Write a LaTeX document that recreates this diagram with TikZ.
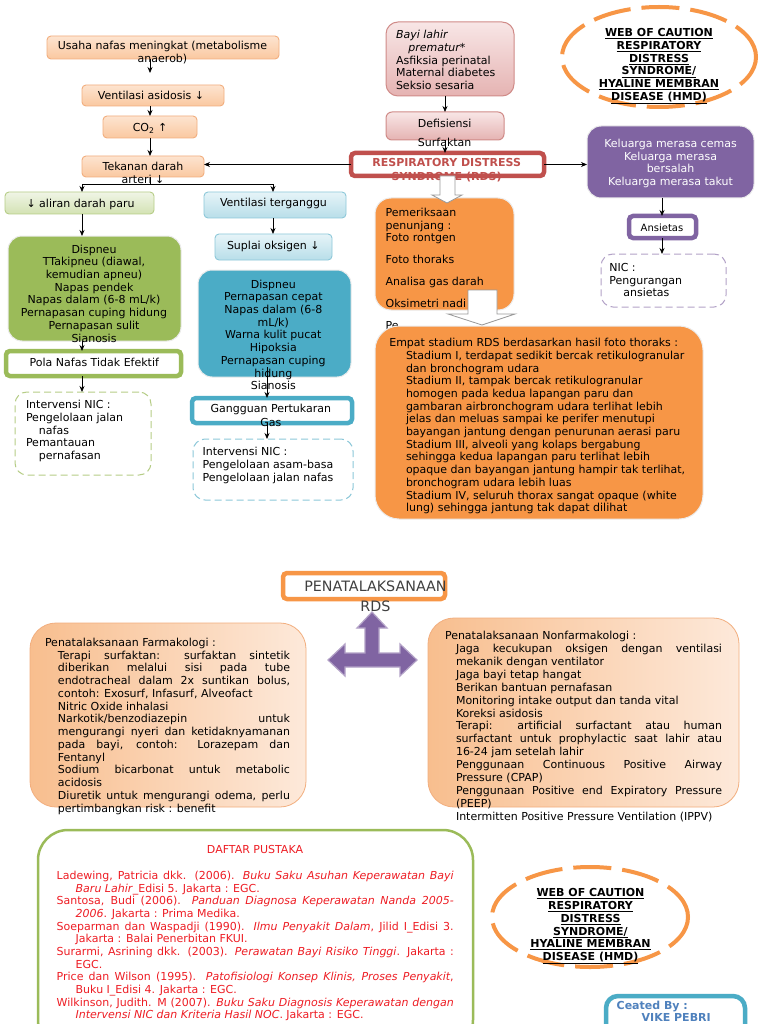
\documentclass[tikz,border=0pt]{standalone}
\usepackage{fontspec}
\setmainfont{DejaVu Sans}
\usetikzlibrary{arrows.meta,shapes.geometric}
\definecolor{peachT}{HTML}{FDE4D0}
\definecolor{peachB}{HTML}{FAC8A0}
\definecolor{peachD}{HTML}{F2AE7E}
\definecolor{pinkT}{HTML}{F8E6E6}
\definecolor{pinkB}{HTML}{E5B3B2}
\definecolor{pinkD}{HTML}{D08B88}
\definecolor{glT}{HTML}{F0F5E6}
\definecolor{glB}{HTML}{D3E2B3}
\definecolor{glD}{HTML}{B6CD87}
\definecolor{blT}{HTML}{E6F4F8}
\definecolor{blB}{HTML}{B8DEE9}
\definecolor{blD}{HTML}{8DC8D9}
\definecolor{olive}{HTML}{9BBB59}
\definecolor{aqua}{HTML}{4BACC6}
\definecolor{orng}{HTML}{F79646}
\definecolor{purp}{HTML}{8064A2}
\definecolor{rdsred}{HTML}{C0504D}
\definecolor{purpL}{HTML}{B3A2C7}
\definecolor{refred}{HTML}{EE1D24}
\definecolor{crblue}{HTML}{4F81BD}
\definecolor{farmL}{HTML}{F8BE8E}
\definecolor{farmR}{HTML}{FDE9DA}
\definecolor{greytxt}{HTML}{404040}
\newcommand\fsn{\fontsize{11}{12.7}\selectfont}
\newcommand\fl{\rule{0pt}{8.4pt}}
\newcommand\bxn[6]{\node[#2, minimum width={#5-#3}, minimum height={#6-#4}] (#1) at ({(#3+#5)/2},{(#4+#6)/2}) {};}
\begin{document}
\begin{tikzpicture}[x=1pt,y=-1pt,
  bx/.style={rectangle, inner sep=0pt, outer sep=0pt},
  peachbox/.style={bx, rounded corners=4pt, top color=peachT, bottom color=peachB, draw=peachD, line width=0.9pt},
  pinkbox/.style={bx, rounded corners=12pt, top color=pinkT, bottom color=pinkB, draw=pinkD, line width=1pt},
  gbox/.style={bx, rounded corners=4pt, top color=glT, bottom color=glB, draw=glD, line width=0.9pt},
  bbox/.style={bx, rounded corners=4pt, top color=blT, bottom color=blB, draw=blD, line width=0.9pt},
  solidbox/.style={bx, rounded corners=14pt, fill=#1, draw=white!85!gray, line width=1pt},
  thickbox/.style={bx, rounded corners=4pt, fill=white, draw=#1, line width=4.5pt},
  dashbox/.style={bx, rounded corners=12pt, draw=#1, line width=1pt, dash pattern=on 7pt off 4pt},
  farmbox/.style={bx, rounded corners=26pt, left color=farmL, right color=farmR, draw=peachD, line width=0.8pt},
  webell/.style={ellipse, inner sep=0pt, outer sep=0pt, draw=orng, line width=4pt, dash pattern=on 38pt off 11pt},
  txt/.style={inner sep=0pt, outer sep=0pt, font=\fsn},
  arr/.style={-{Stealth[length=6pt,width=5pt]}, line width=0.8pt},
  blk/.style={fill=white, draw=gray!80, line width=0.8pt, line join=miter}]
\useasboundingbox (0,0) rectangle (768,1024);
\clip (0,0) rectangle (768,1024);
\fill[white] (0,0) rectangle (768,1024);

% ellipses
\node[webell, minimum width=194pt, minimum height=100pt] (ell1) at (659,57) {};
\node[webell, minimum width=196pt, minimum height=100pt] (ell2) at (590,917) {};

% boxes
\bxn{usaha}{peachbox}{47}{36}{279}{59}
\bxn{vent}{peachbox}{82}{85}{224}{106}
\bxn{co2}{peachbox}{103}{116}{197}{138}
\bxn{tek}{peachbox}{82}{156}{204}{177}
\bxn{aliran}{gbox}{5}{192}{154}{214}
\bxn{ventter}{bbox}{204}{192}{346}{218}
\bxn{supl}{bbox}{215}{234}{332}{260}
\bxn{greenbig}{solidbox=olive}{8}{236}{181}{341}
\bxn{bluebig}{solidbox=aqua}{198}{270}{351}{377}
\bxn{pola}{thickbox=olive}{6}{351}{181}{376}
\bxn{gang}{thickbox=aqua}{192}{398}{352}{423}
\bxn{dashA}{dashbox=glD}{15}{392}{151}{475}
\bxn{dashB}{dashbox=blD}{193}{439}{353}{500}
\bxn{bayi}{pinkbox}{386}{22}{514}{96}
\bxn{defi}{pinkbox, rounded corners=6pt}{386}{112}{504}{140}
\bxn{rds}{thickbox=rdsred}{351}{153}{544}{176}
\bxn{pem}{solidbox=orng, rounded corners=16pt}{375}{198}{514}{310}
\bxn{purple}{solidbox=purp}{587}{126}{754}{198}
\bxn{ans}{thickbox=purp}{629}{216}{696}{238}
\bxn{dashC}{dashbox=purpL}{601}{254}{726}{307}
\bxn{pena}{thickbox=orng}{283}{573}{445}{599}
\bxn{farm}{farmbox}{30}{623}{306}{807}
\bxn{nonf}{farmbox}{428}{618}{739}{807}
\bxn{pust}{bx, rounded corners=30pt, fill=white, draw=olive, line width=2.5pt}{38}{830}{473}{1050}
\bxn{creat}{thickbox=aqua, rounded corners=12pt}{606}{996}{745}{1050}

% texts
\node[txt, align=center, anchor=north] (usahaT) at (162.5,41.4) {\fl Usaha nafas meningkat (metabolisme\\anaerob)};
\node[txt, anchor=north] (ventT) at (151,91.4) {\fl Ventilasi asidosis ↓};
\node[txt, anchor=north] (co2T) at (150,123.4) {\fl CO\textsubscript{2} ↑};
\node[txt, align=center, anchor=north] (tekT) at (143,162.4) {\fl Tekanan darah\\arteri ↓};
\node[txt, anchor=north] (aliranT) at (80.5,198.7) {\fl ↓ aliran darah paru};
\node[txt, anchor=north] (ventterT) at (273.5,198.4) {\fl Ventilasi terganggu};
\node[txt, anchor=north] (suplT) at (273.3,241.4) {\fl Suplai oksigen ↓};
\node[txt, align=center, anchor=north] (greenT) at (94,244.7) {\fl Dispneu\\TTakipneu (diawal,\\kemudian apneu)\\Napas pendek\\Napas dalam (6-8 mL/k)\\Pernapasan cuping hidung\\Pernapasan sulit\\Sianosis};
\node[txt, anchor=north] (polaT) at (94.3,358.1) {\fl Pola Nafas Tidak Efektif};
\node[txt, align=left, anchor=north west] (dashAT) at (26,400.4) {\fl Intervensi NIC :\\Pengelolaan jalan\\\hspace*{13pt}nafas\\Pemantauan\\\hspace*{13pt}pernafasan};
\node[txt, align=center, anchor=north] (blueT) at (273.3,279.7) {\fl Dispneu\\Pernapasan cepat\\Napas dalam (6-8\\mL/k)\\Warna kulit pucat\\Hipoksia\\Pernapasan cuping\\hidung\\Sianosis};
\node[txt, align=center, anchor=north] (gangT) at (270.8,403.7) {\fl Gangguan Pertukaran\\[2pt]Gas};
\node[txt, align=left, anchor=north west] (dashBT) at (202.7,447.4) {\fl Intervensi NIC :\\Pengelolaan asam-basa\\Pengelolaan jalan nafas};
\node[txt, align=left, anchor=north west] (bayiT) at (396,30.4) {\fl\textit{Bayi lahir}\\\hspace*{12.3pt}\textit{prematur*}\\Asfiksia perinatal\\Maternal diabetes\\Seksio sesaria};
\node[txt, align=center, anchor=north] (defiT) at (444.7,119.1) {\fl Defisiensi\\[6.3pt]Surfaktan};
\node[txt, align=center, anchor=north, text=rdsred, font=\fsn\bfseries] (rdsT) at (446.7,158.2) {\fl RESPIRATORY DISTRESS\\[1.7pt]SYNDROME (RDS)};
\node[txt, align=left, anchor=north west] (pemT) at (385.7,208.1) {\fl Pemeriksaan\\penunjang :\\Foto rontgen\\[9.3pt]Foto thoraks\\[8.5pt]Analisa gas darah\\[9.5pt]Oksimetri nadi\\[9.8pt]Pe};
\node[txt, align=center, anchor=north, text=white] (purpleT) at (670.5,139.1) {\fl Keluarga merasa cemas\\Keluarga merasa\\bersalah\\Keluarga merasa takut};
\node[txt, anchor=north, font=\fontsize{10}{12}\selectfont] (ansT) at (662,223.2) {\fl Ansietas};
\node[txt, align=left, anchor=north west] (dashCT) at (609.3,263.1) {\fl NIC :\\Pengurangan\\\hspace*{14pt}ansietas};
\node[txt, align=center, anchor=north, font=\fsn\bfseries] (ell1T) at (659,28.5) {\fl\underline{WEB OF CAUTION}\\\underline{RESPIRATORY}\\\underline{DISTRESS}\\\underline{SYNDROME/}\\\underline{HYALINE MEMBRAN}\\\underline{DISEASE (HMD)}};
\node[txt, align=center, anchor=north, font=\fsn\bfseries] (ell2T) at (590.5,888.5) {\fl\underline{WEB OF CAUTION}\\\underline{RESPIRATORY}\\\underline{DISTRESS}\\\underline{SYNDROME/}\\\underline{HYALINE MEMBRAN}\\\underline{DISEASE (HMD)}};

% emp box and text (covers "Pe")
\bxn{emp}{solidbox=orng, rounded corners=24pt}{375}{326}{703}{519}
\node[txt, align=left, anchor=north west] (empT) at (389.3,338.2) {\fl Empat stadium RDS berdasarkan hasil foto thoraks :\\
\hspace*{16.7pt}Stadium I, terdapat sedikit bercak retikulogranular\\
\hspace*{16.7pt}dan bronchogram udara\\
\hspace*{16.7pt}Stadium II, tampak bercak retikulogranular\\
\hspace*{16.7pt}homogen pada kedua lapangan paru dan\\
\hspace*{16.7pt}gambaran airbronchogram udara terlihat lebih\\
\hspace*{16.7pt}jelas dan meluas sampai ke perifer menutupi\\
\hspace*{16.7pt}bayangan jantung dengan penurunan aerasi paru\\
\hspace*{16.7pt}Stadium III, alveoli yang kolaps bergabung\\
\hspace*{16.7pt}sehingga kedua lapangan paru terlihat lebih\\
\hspace*{16.7pt}opaque dan bayangan jantung hampir tak terlihat,\\
\hspace*{16.7pt}bronchogram udara lebih luas\\
\hspace*{16.7pt}Stadium IV, seluruh thorax sangat opaque (white\\
\hspace*{16.7pt}lung) sehingga jantung tak dapat dilihat};

% bottom texts
\node[txt, align=center, anchor=north, text=greytxt, font=\fontsize{14.3}{20}\selectfont] (penaT) at (375.5,580.4) {\rule{0pt}{10.2pt}PENATALAKSANAAN\\RDS};
\node[txt, align=left, anchor=north west, font=\fontsize{11}{12.75}\selectfont] (farmT) at (45,637.9) {\fl Penatalaksanaan Farmakologi :\\
\hspace*{13pt}\makebox[232pt][s]{Terapi surfaktan: surfaktan sintetik}\\
\hspace*{13pt}\makebox[232pt][s]{diberikan melalui sisi pada tube}\\
\hspace*{13pt}\makebox[232pt][s]{endotracheal dalam 2x suntikan bolus,}\\
\hspace*{13pt}contoh: Exosurf, Infasurf, Alveofact\\
\hspace*{13pt}Nitric Oxide inhalasi\\
\hspace*{13pt}\makebox[232pt][s]{Narkotik/benzodiazepin untuk}\\
\hspace*{13pt}\makebox[232pt][s]{mengurangi nyeri dan ketidaknyamanan}\\
\hspace*{13pt}\makebox[232pt][s]{pada bayi, contoh: Lorazepam dan}\\
\hspace*{13pt}Fentanyl\\
\hspace*{13pt}\makebox[232pt][s]{Sodium bicarbonat untuk metabolic}\\
\hspace*{13pt}acidosis\\
\hspace*{13pt}\makebox[232pt][s]{Diuretik untuk mengurangi odema, perlu}\\
\hspace*{13pt}pertimbangkan risk : benefit};
\node[txt, align=left, anchor=north west, font=\fontsize{11}{12.9}\selectfont] (nonfT) at (445,631.2) {\fl Penatalaksanaan Nonfarmakologi :\\
\hspace*{11pt}\makebox[266pt][s]{Jaga kecukupan oksigen dengan ventilasi}\\
\hspace*{11pt}mekanik dengan ventilator\\
\hspace*{11pt}Jaga bayi tetap hangat\\
\hspace*{11pt}Berikan bantuan pernafasan\\
\hspace*{11pt}Monitoring intake output dan tanda vital\\
\hspace*{11pt}Koreksi asidosis\\
\hspace*{11pt}\makebox[266pt][s]{Terapi: artificial surfactant atau human}\\
\hspace*{11pt}\makebox[266pt][s]{surfactant untuk prophylactic saat lahir atau}\\
\hspace*{11pt}16-24 jam setelah lahir\\
\hspace*{11pt}\makebox[266pt][s]{Penggunaan Continuous Positive Airway}\\
\hspace*{11pt}Pressure (CPAP)\\
\hspace*{11pt}\makebox[266pt][s]{Penggunaan Positive end Expiratory Pressure}\\
\hspace*{11pt}(PEEP)\\
\hspace*{11pt}Intermitten Positive Pressure Ventilation (IPPV)};
\node[txt, anchor=north, text=refred] (pustT) at (255,845.5) {\fl DAFTAR PUSTAKA};
\node[txt, align=left, anchor=north west, text=refred, font=\fontsize{11}{12.66}\selectfont] (refT) at (56.7,871.2) {\fl\makebox[397pt][s]{Ladewing, Patricia dkk. (2006). \textit{Buku Saku Asuhan Keperawatan Bayi}}\\
\hspace*{19pt}\textit{Baru Lahir}\_Edisi 5. Jakarta : EGC.\\
\makebox[397pt][s]{Santosa, Budi (2006). \textit{Panduan Diagnosa Keperawatan Nanda 2005-}}\\
\hspace*{19pt}\textit{2006}. Jakarta : Prima Medika.\\
\makebox[397pt][s]{Soeparman dan Waspadji (1990). \textit{Ilmu Penyakit Dalam}, Jilid I\_Edisi 3.}\\
\hspace*{19pt}Jakarta : Balai Penerbitan FKUI.\\
\makebox[397pt][s]{Surarmi, Asrining dkk. (2003). \textit{Perawatan Bayi Risiko Tinggi}. Jakarta :}\\
\hspace*{19pt}EGC.\\
\makebox[397pt][s]{Price dan Wilson (1995). \textit{Patofisiologi Konsep Klinis, Proses Penyakit},}\\
\hspace*{19pt}Buku I\_Edisi 4. Jakarta : EGC.\\
\makebox[397pt][s]{Wilkinson, Judith. M (2007). \textit{Buku Saku Diagnosis Keperawatan dengan}}\\
\hspace*{19pt}\textit{Intervensi NIC dan Kriteria Hasil NOC}. Jakarta : EGC.};
\node[txt, align=left, anchor=north west, text=crblue, font=\fontsize{11}{12}\selectfont\bfseries] (creatT) at (616.7,1001.4) {\fl Ceated By :\\\hspace*{25pt}VIKE PEBRI};

% connectors
\coordinate (cA) at (150,0);
\coordinate (cB) at (82,0);
\coordinate (cC) at (273,0);
\coordinate (cD) at (267,0);
\coordinate (cE) at (445,0);
\coordinate (cF) at (662,0);
\coordinate (yBr) at (0,184);
\draw[arr, shorten >=12pt] (usaha.south -| cA) -- (vent.north -| cA);
\draw[arr] (vent.south -| cA) -- (co2.north -| cA);
\draw[arr] (co2.south -| cA) -- (tek.north -| cA);
\draw[line width=0.8pt] (tek.south -| cA) -- (yBr -| cA);
\draw[arr] (yBr -| cA) -- (yBr -| cB) -- (aliran.north -| cB);
\draw[arr] (yBr -| cA) -- (yBr -| cC) -- (ventter.north -| cC);
\draw[arr] (rds.west) -- (tek.east |- rds.west);
\draw[arr] (rds.east) -- (purple.west |- rds.east);
\draw[arr] (aliran.south -| cB) -- (greenbig.north -| cB);
\draw[arr] (ventter.south -| cC) -- (supl.north -| cC);
\draw[arr] (greenbig.south -| cB) -- (pola.north -| cB);
\draw[arr] (pola.south -| cB) -- (dashA.north -| cB);
\draw[arr] ([yshift=10pt]bluebig.south -| cD) -- (gang.north -| cD);
\draw[arr] (gang.south -| cD) -- (dashB.north -| cD);
\draw[arr] (bayi.south -| cE) -- (defi.north -| cE);
\draw[arr] (defi.south -| cE) -- (rds.north -| cE);
\draw[arr] (purple.south -| cF) -- (ans.north -| cF);
\draw[arr] (ans.south -| cF) -- (dashC.north -| cF);

% block arrows
\draw[blk] (440,176) -- (455,176) -- (455,195) -- (462,195) -- (447,203) -- (432,195) -- (440,195) -- cycle;
\draw[blk] (468,290) -- (497,290) -- (497,314) -- (515,314) -- (482,325) -- (448,314) -- (468,314) -- cycle;
% quad arrow
\draw[fill=purp, draw=purpL, line width=1.2pt, line join=miter] (372,612) -- (387,628) -- (379,628) -- (379,653) -- (400,653) -- (400,644) -- (417,660) -- (400,676) -- (400,667) -- (345,667) -- (345,676) -- (328,660) -- (345,644) -- (345,653) -- (365,653) -- (365,628) -- (357,628) -- cycle;
\end{tikzpicture}
\end{document}
